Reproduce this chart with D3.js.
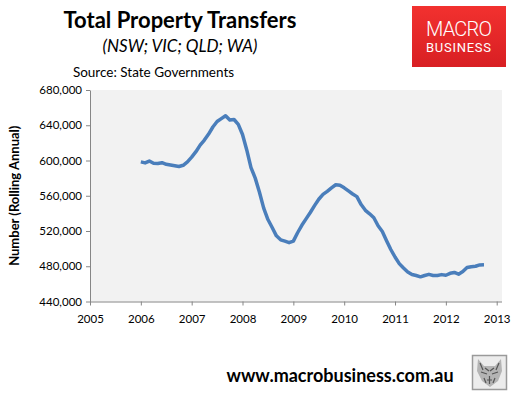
<!DOCTYPE html>
<html>
<head>
<meta charset="utf-8">
<script src="https://cdn.jsdelivr.net/npm/d3@7"></script>
<style>
  body { margin: 0; background: #fff; }
  svg { display: block; font-family: Lato, "Open Sans", sans-serif; }
</style>
</head>
<body>
<svg width="523" height="398"></svg>
<script>
// monthly rolling annual transfers, Jan 2006 .. Oct 2012 (thousands)
const startYear = 2006;
const transfers = [
  598.4, 597.3, 599.4, 596.8, 596.5, 597.5, 595.7, 594.8, 594.0, 593.2, 594.6, 598.4,
  603.8, 610.0, 617.5, 623.2, 630.0, 638.0, 644.2, 647.5, 650.8, 646.0, 646.5, 641.0,
  629.5, 612.0, 592.0, 580.0, 564.0, 546.0, 533.0, 524.0, 514.5, 510.0, 508.5, 506.8,
  508.5, 518.0, 526.5, 533.8, 541.0, 548.8, 556.0, 561.5, 565.0, 569.0, 572.5, 571.9,
  569.0, 565.5, 562.0, 559.0, 550.0, 543.5, 539.5, 535.0, 526.0, 519.5, 509.0, 499.0,
  490.5, 483.0, 478.0, 473.5, 470.6, 469.5, 468.0, 469.5, 470.8, 469.5, 469.5, 470.5,
  469.8, 472.0, 473.0, 471.0, 474.0, 478.5, 479.5, 480.0, 481.5, 481.7
];
const yTicks = [440000, 480000, 520000, 560000, 600000, 640000, 680000];
const xTicks = [2005, 2006, 2007, 2008, 2009, 2010, 2011, 2012, 2013];

const data = transfers.map((v, i) => ({ t: startYear + i / 12, v: v * 1000 }));

const svg = d3.select("svg");
const plot = { left: 90, right: 502, top: 90, bottom: 301.5 };

const x = d3.scaleLinear().domain([2005, 2013]).range([plot.left, 496.7]);
const y = d3.scaleLinear().domain([440000, 680000]).range([plot.bottom, plot.top]);

// plot area
svg.append("rect")
  .attr("x", plot.left).attr("y", plot.top)
  .attr("width", plot.right - plot.left).attr("height", plot.bottom - plot.top)
  .attr("fill", "#f2f2f2");

// y axis
const yAxis = svg.append("g")
  .attr("transform", `translate(${plot.left},0)`)
  .call(d3.axisLeft(y).tickValues(yTicks).tickSize(4).tickPadding(4)
    .tickFormat(d3.format(",")).tickSizeOuter(0));
yAxis.select(".domain").attr("stroke", "#868686");
yAxis.selectAll(".tick line").attr("stroke", "#868686");
yAxis.selectAll("text").attr("font-size", "11.5px").attr("fill", "#000")
  .attr("font-family", "Lato, sans-serif");

// x axis
const xAxis = svg.append("g")
  .attr("transform", `translate(0,${plot.bottom})`)
  .call(d3.axisBottom(x).tickValues(xTicks).tickSize(4).tickPadding(9)
    .tickFormat(d3.format("d")).tickSizeOuter(0));
xAxis.select(".domain").attr("stroke", "#868686").attr("d", `M${plot.left},0.5H${plot.right}`);
xAxis.selectAll(".tick line").attr("stroke", "#868686");
xAxis.selectAll("text").attr("font-size", "11.5px").attr("fill", "#000")
  .attr("font-family", "Lato, sans-serif");

// series line
const line = d3.line().x(d => x(d.t)).y(d => y(d.v));
svg.append("path")
  .datum(data)
  .attr("d", line)
  .attr("fill", "none")
  .attr("stroke", "#4a7ebb")
  .attr("stroke-width", 3.5)
  .attr("stroke-linejoin", "round");

// titles
svg.append("text").attr("x", 180).attr("y", 28)
  .attr("text-anchor", "middle").attr("font-size", "22px").attr("font-weight", "bold")
  .text("Total Property Transfers");
svg.append("text").attr("x", 180).attr("y", 52)
  .attr("text-anchor", "middle").attr("font-size", "17px").attr("font-style", "italic")
  .text("(NSW; VIC; QLD; WA)");
svg.append("text").attr("x", 153.5).attr("y", 77)
  .attr("text-anchor", "middle").attr("font-size", "13.5px")
  .text("Source: State Governments");

svg.append("text")
  .attr("transform", `translate(19,${(plot.top + plot.bottom) / 2}) rotate(-90)`)
  .attr("text-anchor", "middle").attr("font-size", "13px").attr("font-weight", "bold")
  .text("Number (Rolling Annual)");

// logo
const defs = svg.append("defs");
const grad = defs.append("linearGradient").attr("id", "logoRed")
  .attr("x1", 0).attr("y1", 0).attr("x2", 0).attr("y2", 1);
grad.append("stop").attr("offset", "0%").attr("stop-color", "#f2312f");
grad.append("stop").attr("offset", "100%").attr("stop-color", "#d81f23");
svg.append("rect").attr("x", 412).attr("y", 6).attr("width", 94).attr("height", 61)
  .attr("fill", "url(#logoRed)");
svg.append("text").attr("x", 459).attr("y", 36).attr("text-anchor", "middle")
  .attr("font-family", "Roboto, sans-serif").attr("font-weight", 300).attr("font-size", "20px")
  .attr("fill", "#fff").attr("textLength", 66).text("MACRO");
svg.append("text").attr("x", 459).attr("y", 52).attr("text-anchor", "middle")
  .attr("font-family", "Roboto, sans-serif").attr("font-size", "13px")
  .attr("fill", "#fff").attr("textLength", 66).attr("letter-spacing", 1).text("BUSINESS");

// footer
svg.append("text").attr("x", 340).attr("y", 382).attr("text-anchor", "middle")
  .attr("font-size", "18px").attr("font-weight", "bold")
  .text("www.macrobusiness.com.au");

// wolf badge
const badge = svg.append("g").attr("transform", "translate(472,355)");
badge.append("rect").attr("x", 0.5).attr("y", 0.5).attr("width", 34).attr("height", 34)
  .attr("fill", "#ececec").attr("stroke", "#9a9a9a").attr("stroke-width", 1.5);
badge.append("path")
  .attr("d", "M6,4 L12,11 L23,11 L29,4 L30,16 L26,26 L18,32 L10,26 L5,16 Z")
  .attr("fill", "#b4b4b4");
badge.append("path")
  .attr("d", "M8,8 L11,15 M27,8 L24,15 M9,17 L15,19 M20,19 L26,17 M13,13 L17,16 M22,13 L18,16 M15,25 L20,25 M17.5,21 L17.5,29 M12,23 L14,28 M23,23 L21,28")
  .attr("stroke", "#555").attr("stroke-width", 1.2).attr("fill", "none");
</script>
</body>
</html>
